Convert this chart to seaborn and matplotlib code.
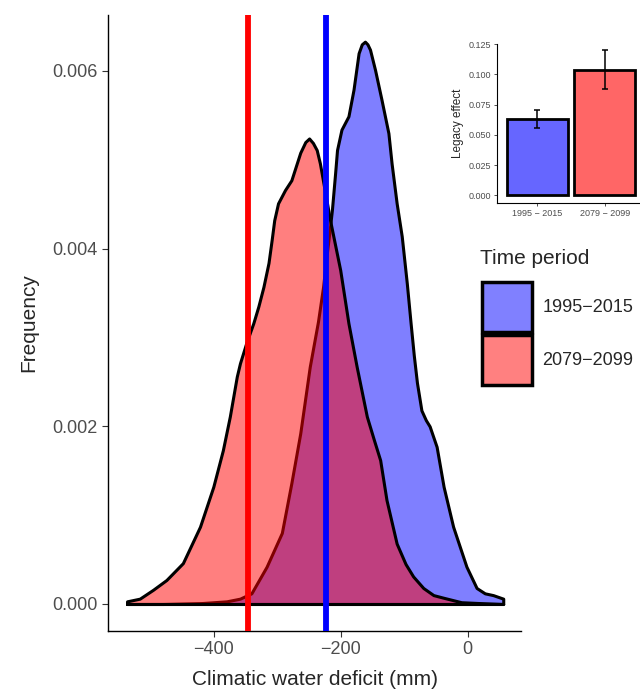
import matplotlib
matplotlib.use("Agg")
import matplotlib.pyplot as plt
from matplotlib.patches import Patch
import seaborn as sns

# climatic water deficit (mm) and density
deficit_1995 = [-537, -480, -420, -380, -359, -341, -317, -293, -278, -264, -249, -236, -228,
                -222, -217, -214, -209, -206, -199, -188, -180, -172, -167, -162, -158, -154,
                -146, -136, -125, -120, -112, -104, -96, -90, -85, -80, -73, -66, -60, -49,
                -38, -23, -2, 14, 27, 40, 56]
density_1995 = [0.00000, 0.00000, 0.00001, 0.00003, 0.00006, 0.00012, 0.00042, 0.00080, 0.00136,
                0.00192, 0.00267, 0.00318, 0.00357, 0.00395, 0.00425, 0.00444, 0.00485, 0.00511,
                0.00534, 0.00549, 0.00579, 0.00620, 0.00630, 0.00633, 0.00630, 0.00624, 0.00601,
                0.00568, 0.00530, 0.00496, 0.00451, 0.00414, 0.00361, 0.00316, 0.00280, 0.00249,
                0.00218, 0.00207, 0.00200, 0.00177, 0.00132, 0.00087, 0.00042, 0.00018, 0.00012,
                0.00010, 0.00006]

deficit_2079 = [-537, -517, -496, -475, -449, -422, -401, -386, -375, -364, -359, -349, -338,
                -330, -322, -314, -309, -305, -299, -288, -278, -264, -256, -250, -244, -238,
                -233, -225, -217, -201, -188, -175, -159, -148, -138, -128, -112, -98, -86,
                -70, -54, -38, -10, 20, 56]
density_2079 = [0.00003, 0.00006, 0.00016, 0.00027, 0.00046, 0.00087, 0.00132, 0.00173, 0.00211,
                0.00256, 0.00271, 0.00294, 0.00316, 0.00335, 0.00357, 0.00384, 0.00410, 0.00432,
                0.00451, 0.00466, 0.00477, 0.00508, 0.00520, 0.00524, 0.00519, 0.00511, 0.00496,
                0.00464, 0.00432, 0.00376, 0.00316, 0.00267, 0.00211, 0.00185, 0.00162, 0.00117,
                0.00068, 0.00045, 0.00031, 0.00018, 0.00010, 0.00007, 0.00002, 0.00001, 0.00000]

mean_1995 = -224
mean_2079 = -346

periods = ["1995−2015", "2079−2099"]
bar_labels = ["1995 − 2015", "2079 − 2099"]
legacy_effect = [0.063, 0.104]
legacy_low = [0.056, 0.088]
legacy_high = [0.0705, 0.120]

sns.set_theme(style="ticks")
plt.rcParams['font.family'] = ['Liberation Sans', 'DejaVu Sans']

fig = plt.figure(figsize=(6.4, 6.96), dpi=100)
ax = fig.add_axes([108 / 640, 1 - 631 / 696, 413 / 640, 616 / 696])

blue_fill = ax.fill_between(deficit_1995, density_1995, facecolor=(0, 0, 1, 0.5),
                            edgecolor="black", linewidth=2.2, zorder=2)
red_fill = ax.fill_between(deficit_2079, density_2079, facecolor=(1, 0, 0, 0.5),
                           edgecolor="black", linewidth=2.2, zorder=3)
for coll in (blue_fill, red_fill):
    coll.set_joinstyle("round")
ax.axvline(mean_2079, color="red", linewidth=4.2, zorder=4)
ax.axvline(mean_1995, color="blue", linewidth=4.2, zorder=4)

ax.set_xlim(-567, 84)
ax.set_ylim(-0.000304, 0.00663)
ax.set_xticks([-400, -200, 0])
ax.set_yticks([0, 0.002, 0.004, 0.006])
ax.set_yticklabels(["0.000", "0.002", "0.004", "0.006"])
ax.tick_params(labelsize=13, labelcolor="#4D4D4D", color="#333333", length=4, width=0.8)
ax.set_xlabel("Climatic water deficit (mm)", fontsize=15, labelpad=8)
ax.set_ylabel("Frequency", fontsize=15, labelpad=10)
for s in ["top", "right"]:
    ax.spines[s].set_visible(False)
for s in ["left", "bottom"]:
    ax.spines[s].set_linewidth(1.0)
    ax.spines[s].set_color("black")

# legend
fig.text(480 / 640, 1 - 258 / 696, "Time period", fontsize=15, va="center", ha="left")
handles = [Patch(facecolor=(0.5, 0.5, 1), edgecolor="black", linewidth=2.5, label=periods[0]),
           Patch(facecolor=(1, 0.5, 0.5), edgecolor="black", linewidth=2.5, label=periods[1])]
fig.legend(handles=handles, loc="upper left", bbox_to_anchor=(482 / 640, 1 - 282 / 696),
           frameon=False, fontsize=13, handlelength=2.75, handleheight=3.88,
           labelspacing=0.15, handletextpad=0.6, borderpad=0, borderaxespad=0)

# inset: legacy effect
ins = fig.add_axes([497 / 640, 1 - 203 / 696, 148 / 640, 159 / 696])
sns.barplot(x=bar_labels, y=legacy_effect, hue=bar_labels,
            palette=["#6666FF", "#FF6666"], saturation=1, width=0.9,
            edgecolor="black", linewidth=2, ax=ins, legend=False)
err_low = [v - lo for v, lo in zip(legacy_effect, legacy_low)]
err_high = [hi - v for v, hi in zip(legacy_effect, legacy_high)]
ins.errorbar([0, 1], legacy_effect, yerr=[err_low, err_high], fmt="none",
             ecolor="black", elinewidth=1.1, capsize=2.2, capthick=1.1, zorder=5)
ins.set_xlim(-0.6, 1.6)
ins.set_ylim(-0.0062, 0.1252)
ins.set_yticks([0, 0.025, 0.05, 0.075, 0.1, 0.125])
ins.set_yticklabels(["0.000", "0.025", "0.050", "0.075", "0.100", "0.125"])
ins.tick_params(labelsize=6.5, labelcolor="#4D4D4D", color="#333333", length=2.5, width=0.6, pad=2)
ins.set_ylabel("Legacy effect", fontsize=8.5, labelpad=3)
ins.set_xlabel("")
for s in ["top", "right"]:
    ins.spines[s].set_visible(False)
for s in ["left", "bottom"]:
    ins.spines[s].set_linewidth(0.8)
    ins.spines[s].set_color("black")

fig.savefig("out.png", dpi=100)
